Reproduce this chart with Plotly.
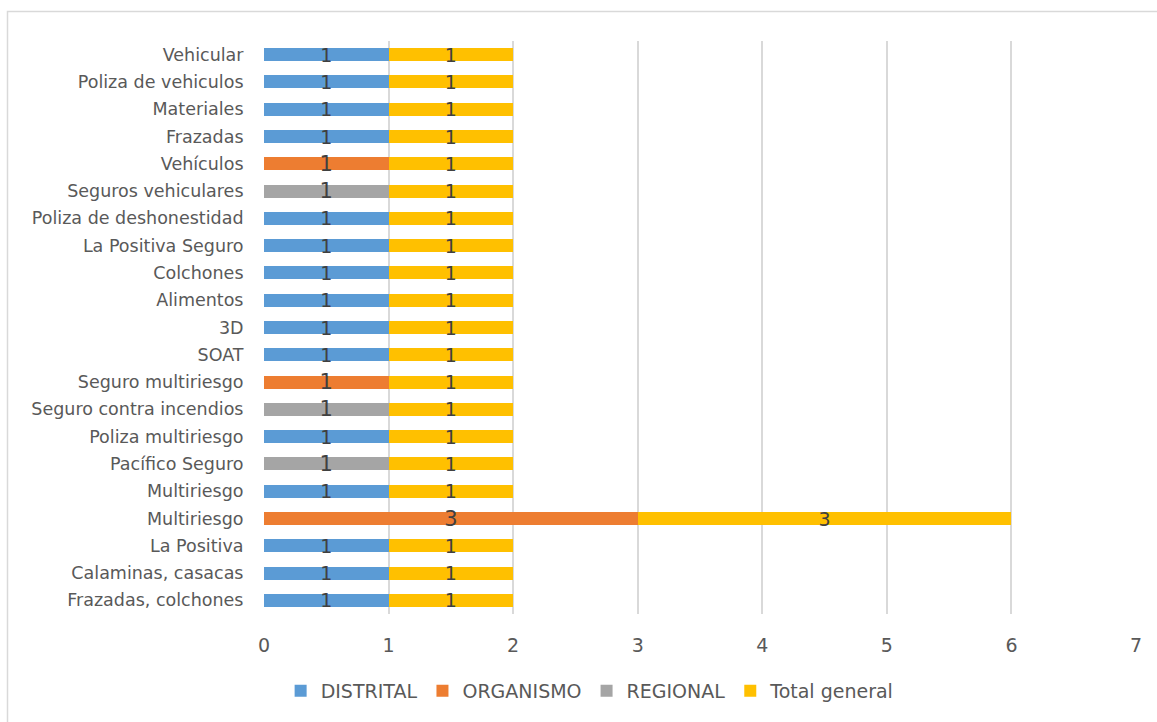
import plotly.graph_objects as go

# Categories listed top-to-bottom as they appear
categories = [
    "Vehicular", "Poliza de vehiculos", "Materiales", "Frazadas", "Vehículos",
    "Seguros vehiculares", "Poliza de deshonestidad", "La Positiva Seguro",
    "Colchones", "Alimentos", "3D", "SOAT", "Seguro multiriesgo",
    "Seguro contra incendios", "Poliza multiriesgo", "Pacífico Seguro",
    "Multiriesgo", "Multiriesgo", "La Positiva", "Calaminas, casacas",
    "Frazadas, colchones",
]
distrital = [1, 1, 1, 1, None, None, 1, 1, 1, 1, 1, 1, None, None, 1, None, 1, None, 1, 1, 1]
organismo = [None, None, None, None, 1, None, None, None, None, None, None, None, 1, None, None, None, None, 3, None, None, None]
regional = [None, None, None, None, None, 1, None, None, None, None, None, None, None, 1, None, 1, None, None, None, None, None]
total_general = [1, 1, 1, 1, 1, 1, 1, 1, 1, 1, 1, 1, 1, 1, 1, 1, 1, 3, 1, 1, 1]

series = [
    ("DISTRITAL", distrital, "#5b9bd5", 19),
    ("ORGANISMO", organismo, "#ed7d31", 21),
    ("REGIONAL", regional, "#a5a5a5", 21),
    ("Total general", total_general, "#ffc000", 19),
]

n = len(categories)
ypos = [n - 1 - i for i in range(n)]

FONT = "'DejaVu Sans', sans-serif"

fig = go.Figure()
for name, vals, color, fs in series:
    fig.add_trace(go.Bar(
        name=name, y=ypos, x=vals, orientation="h",
        marker=dict(color=color, line=dict(width=0)),
        text=[("%d" % v) if v is not None else "" for v in vals],
        textposition="inside", insidetextanchor="middle",
        constraintext="none", textangle=0,
        textfont=dict(color="#404040", size=fs, family=FONT),
        hoverinfo="x+name",
    ))

W, H = 1157, 722
L, R, T, B = 264, 21, 41, 106
pw, ph = W - L - R, H - T - B

fig.update_layout(
    barmode="stack", bargap=0.52,
    width=W, height=H,
    margin=dict(l=L, r=R, t=T, b=B, pad=0),
    paper_bgcolor="white", plot_bgcolor="white",
    font=dict(family=FONT, color="#595959"),
    xaxis=dict(range=[0, 7], dtick=1, showgrid=True, gridcolor="#d9d9d9",
               gridwidth=1.5, zeroline=False, showline=False,
               tickfont=dict(size=19, color="#595959"), ticks="outside",
               ticklen=14, tickcolor="rgba(0,0,0,0)",
               fixedrange=True),
    yaxis=dict(tickmode="array", tickvals=ypos, ticktext=categories,
               range=[-0.5, n - 0.5], showgrid=False, zeroline=False,
               showline=False, tickfont=dict(size=17.5, color="#595959"),
               ticks="outside", ticklen=16, tickcolor="rgba(0,0,0,0)",
               fixedrange=True),
    legend=dict(orientation="h", x=0.374, xanchor="center", y=-0.134,
                yanchor="middle", font=dict(size=19, color="#595959"),
                traceorder="normal", itemwidth=30),
    showlegend=True,
    shapes=[dict(type="rect", xref="paper", yref="paper",
                 x0=(7.5 - L) / pw, x1=(W + 5 - L) / pw,
                 y0=(T + ph - (H + 5)) / ph, y1=(T + ph - 11.5) / ph,
                 line=dict(color="#d9d9d9", width=1.5),
                 fillcolor="rgba(0,0,0,0)", layer="below")],
)
fig.write_html("out.html", config={"displayModeBar": False},
               post_script="document.body.style.margin='0';document.body.style.overflow='hidden';")
